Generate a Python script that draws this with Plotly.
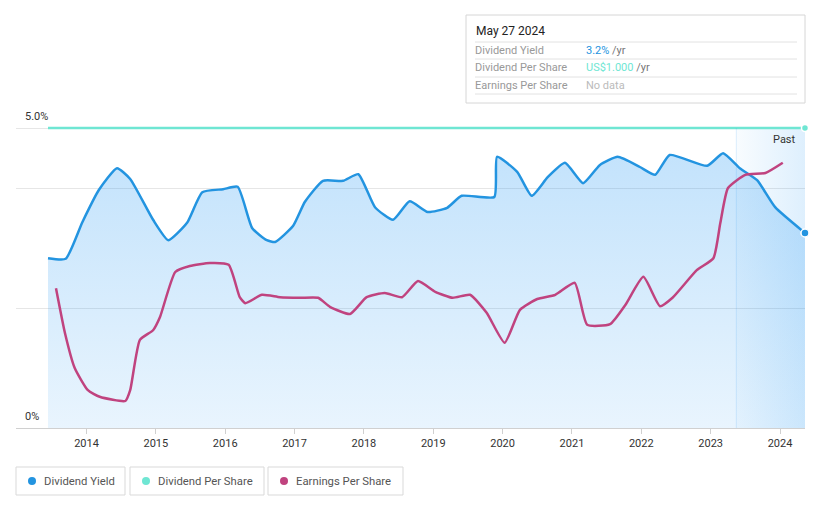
import plotly.graph_objects as go

# ---- data (decimal years) ----
yield_x = [2013.445, 2013.70, 2013.94, 2014.18, 2014.44, 2014.63, 2014.96, 2015.18, 2015.45, 2015.67,
           2015.97, 2016.18, 2016.39, 2016.60, 2016.72, 2016.98, 2017.15, 2017.41, 2017.70, 2017.92,
           2018.16, 2018.42, 2018.66, 2018.92, 2019.20, 2019.41, 2019.88, 2019.92, 2020.21, 2020.42,
           2020.65, 2020.90, 2021.16, 2021.40, 2021.66, 2021.98, 2022.20, 2022.41, 2022.95, 2023.18,
           2023.42, 2023.67, 2023.93, 2024.36]
yield_pct = [2.83, 2.82, 3.43, 3.97, 4.33, 4.15, 3.47, 3.13, 3.42, 3.93,
             3.98, 4.02, 3.33, 3.13, 3.10, 3.37, 3.77, 4.12, 4.12, 4.23,
             3.68, 3.47, 3.78, 3.60, 3.67, 3.87, 3.85, 4.52, 4.27, 3.87,
             4.18, 4.42, 4.08, 4.38, 4.52, 4.35, 4.22, 4.55, 4.37, 4.58,
             4.33, 4.13, 3.68, 3.25]

dps_x = [2013.445, 2024.36]
dps_val = [1.0, 1.0]

eps_x = [2013.56, 2013.69, 2013.83, 2014.02, 2014.19, 2014.56, 2014.63, 2014.77, 2014.96, 2015.06,
         2015.28, 2015.49, 2015.78, 2016.05, 2016.21, 2016.29, 2016.53, 2016.79, 2017.08, 2017.34,
         2017.51, 2017.80, 2018.04, 2018.30, 2018.55, 2018.78, 2019.03, 2019.28, 2019.53, 2019.77,
         2020.03, 2020.25, 2020.50, 2020.76, 2021.04, 2021.22, 2021.55, 2021.77, 2022.03, 2022.27,
         2022.45, 2022.80, 2023.04, 2023.14, 2023.25, 2023.50, 2023.79, 2024.04]
eps_val = [2.33, 1.58, 1.00, 0.63, 0.52, 0.45, 0.63, 1.47, 1.63, 1.85,
           2.60, 2.70, 2.75, 2.72, 2.18, 2.08, 2.22, 2.18, 2.17, 2.17,
           2.02, 1.90, 2.18, 2.25, 2.18, 2.45, 2.27, 2.17, 2.22, 1.92,
           1.42, 1.97, 2.15, 2.22, 2.42, 1.72, 1.73, 2.05, 2.52, 2.03,
           2.17, 2.63, 2.83, 3.42, 4.00, 4.22, 4.25, 4.42]

years = list(range(2014, 2025))
year_labels = [str(y) for y in years]
past_start = 2023.37

BLUE = "#2394e0"
TEAL = "#6fe6d3"
PURPLE = "#c0437f"

W, H = 821, 508
X0_PX, X1_PX = 16, 805
YMAX = 428 / 60.0   # % units so that 0 sits at px 428 and 5% at px 128
xr0 = 2014 + (X0_PX - 86.5) / 69.35
xr1 = 2014 + (X1_PX - 86.5) / 69.35

fig = go.Figure()

# Past shading (horizontal gradient)
fig.add_trace(go.Scatter(
    x=[past_start, xr1, xr1, past_start, past_start], y=[0, 0, 5.0, 5.0, 0],
    mode="lines", line=dict(width=0), fill="toself",
    fillgradient=dict(type="horizontal", start=past_start, stop=xr1,
                      colorscale=[[0, "rgba(33,150,243,0.03)"], [1, "rgba(33,150,243,0.15)"]]),
    hoverinfo="skip", showlegend=False))

# Dividend yield area + line
fig.add_trace(go.Scatter(
    x=yield_x, y=yield_pct, mode="lines",
    line=dict(color=BLUE, width=2.5, shape="spline", smoothing=0.5),
    fill="tozeroy",
    fillgradient=dict(type="vertical", start=0, stop=4.6,
                      colorscale=[[0, "rgba(33,150,243,0.10)"], [1, "rgba(33,150,243,0.27)"]]),
    hoverinfo="skip", showlegend=False))

fig.add_shape(type="line", xref="x", yref="y", x0=past_start, x1=past_start, y0=0, y1=5.0,
              line=dict(color="rgba(33,150,243,0.15)", width=1))

# EPS
fig.add_trace(go.Scatter(
    x=eps_x, y=eps_val, mode="lines", yaxis="y3",
    line=dict(color=PURPLE, width=2.5, shape="spline", smoothing=0.5),
    hoverinfo="skip", showlegend=False))

# DPS
fig.add_trace(go.Scatter(
    x=dps_x, y=dps_val, mode="lines", yaxis="y2",
    line=dict(color=TEAL, width=2.5),
    hoverinfo="skip", showlegend=False))
fig.add_trace(go.Scatter(
    x=[dps_x[-1]], y=[dps_val[-1]], mode="markers", yaxis="y2",
    marker=dict(color=TEAL, size=7, line=dict(color="white", width=1.5)),
    hoverinfo="skip", showlegend=False, cliponaxis=False))
fig.add_trace(go.Scatter(
    x=[yield_x[-1]], y=[yield_pct[-1]], mode="markers",
    marker=dict(color=BLUE, size=8, line=dict(color="white", width=1.5)),
    hoverinfo="skip", showlegend=False, cliponaxis=False))

fig.update_layout(
    width=W, height=H, margin=dict(l=0, r=0, t=0, b=0),
    paper_bgcolor="white", plot_bgcolor="white",
    font=dict(family="Roboto, sans-serif", size=11, color="#333"),
    showlegend=False,
    xaxis=dict(domain=[X0_PX / W, X1_PX / W], range=[xr0, xr1], tickvals=years, ticktext=year_labels,
               showgrid=False, zeroline=False, showline=True, linecolor="#d0d0d0", linewidth=1,
               ticks="outside", ticklen=5, tickcolor="#d0d0d0", tickfont=dict(size=11, color="#333"),
               anchor="y"),
    yaxis=dict(domain=[1 - 428 / H, 1], range=[0, YMAX], tickvals=[2, 4, 5], showticklabels=False,
               showgrid=True, gridcolor="#e6e6e6", zeroline=False, showline=False, ticks=""),
    yaxis2=dict(domain=[1 - 428 / H, 1], range=[0, YMAX / 5.0], overlaying="y", visible=False),
    yaxis3=dict(domain=[1 - 428 / H, 1], range=[0, YMAX], overlaying="y", visible=False),
)

# Y labels
fig.add_annotation(x=23 / W, y=1 - 116 / H, xref="paper", yref="paper", text="5.0%", showarrow=False,
                   xanchor="left", yanchor="middle", font=dict(size=11, color="#333"))
fig.add_annotation(x=23 / W, y=1 - 416 / H, xref="paper", yref="paper", text="0%", showarrow=False,
                   xanchor="left", yanchor="middle", font=dict(size=11, color="#333"))
fig.add_annotation(x=798 / W, y=1 - 140 / H, xref="paper", yref="paper", text="Past", showarrow=False,
                   xanchor="right", yanchor="middle", font=dict(size=11, color="#333"))

# Tooltip box
fig.add_shape(type="rect", xref="paper", yref="paper", x0=466 / W, x1=805 / W, y0=1 - 103 / H, y1=1 - 15 / H,
              line=dict(color="#d6d6d6", width=1), fillcolor="white", layer="above")
for ly in [42, 59, 77, 94]:
    fig.add_shape(type="line", xref="paper", yref="paper", x0=475 / W, x1=797 / W, y0=1 - ly / H, y1=1 - ly / H,
                  line=dict(color="#e2e2e2", width=1), layer="above")
fig.add_annotation(x=474 / W, y=1 - 31 / H, xref="paper", yref="paper", text="May 27 2024", showarrow=False,
                   xanchor="left", yanchor="middle", font=dict(size=12, color="#222"))
rows = [("Dividend Yield", f"<span style='color:{BLUE}'>3.2%</span> /yr", 50),
        ("Dividend Per Share", f"<span style='color:{TEAL}'>US$1.000</span> /yr", 67),
        ("Earnings Per Share", "<span style='color:#bbbbbb'>No data</span>", 85)]
for lab, val, ry in rows:
    fig.add_annotation(x=473 / W, y=1 - ry / H, xref="paper", yref="paper", text=lab, showarrow=False,
                       xanchor="left", yanchor="middle", font=dict(size=11, color="#999"))
    fig.add_annotation(x=584 / W, y=1 - ry / H, xref="paper", yref="paper", text=val, showarrow=False,
                       xanchor="left", yanchor="middle", font=dict(size=11, color="#777"))

# Legend boxes
legend = [("Dividend Yield", BLUE, 16, 125), ("Dividend Per Share", TEAL, 130, 264),
          ("Earnings Per Share", PURPLE, 268, 403)]
for name, col, bx0, bx1 in legend:
    fig.add_shape(type="rect", xref="paper", yref="paper", x0=bx0 / W, x1=bx1 / W, y0=1 - 495 / H, y1=1 - 467 / H,
                  line=dict(color="#d9d9d9", width=1), fillcolor="white")
    fig.add_shape(type="circle", xref="paper", yref="paper", x0=(bx0 + 12) / W, x1=(bx0 + 20) / W,
                  y0=1 - 485 / H, y1=1 - 477 / H, line=dict(width=0), fillcolor=col)
    fig.add_annotation(x=(bx0 + 26) / W, y=1 - 481 / H, xref="paper", yref="paper", text=name, showarrow=False,
                       xanchor="left", yanchor="middle", font=dict(size=11.3, color="#555"))

fig.write_html("out.html")
